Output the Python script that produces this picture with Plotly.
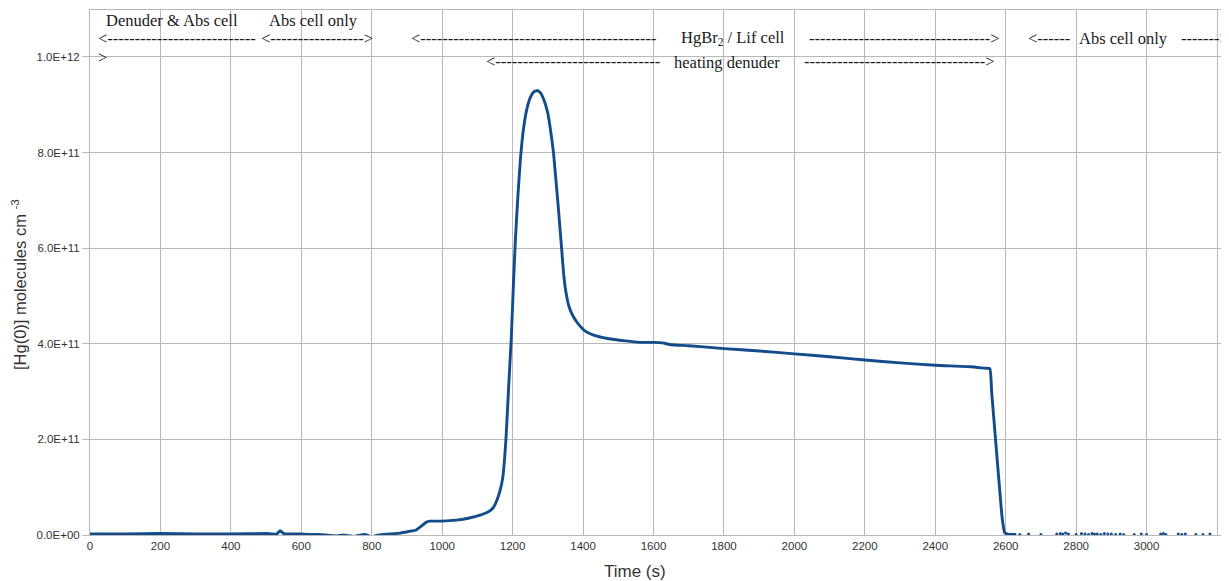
import plotly.graph_objects as go

# ---- data ----
time_s = [0, 100, 200, 300, 400, 500, 530, 540, 550, 600, 650, 700, 720, 750, 780, 800, 820,
          850, 880, 910, 925, 940, 955, 965, 1000, 1040, 1080, 1110, 1130, 1145, 1155, 1165,
          1172, 1181, 1188, 1196, 1202, 1208, 1215, 1222, 1230, 1240, 1250, 1260, 1270, 1280,
          1290, 1300, 1308, 1316, 1322, 1328, 1339, 1345, 1352, 1360, 1372, 1388, 1405, 1430,
          1470, 1520, 1560, 1600, 1625, 1650, 1700, 1800, 1900, 2000, 2100, 2200, 2300, 2400,
          2500, 2540, 2555, 2560, 2570, 2580, 2590, 2597, 2605, 2630]
hg0 = [0.02e11, 0.02e11, 0.03e11, 0.02e11, 0.02e11, 0.03e11, 0.02e11, 0.09e11, 0.03e11, 0.02e11,
       0.01e11, -0.02e11, 0.0, -0.03e11, 0.01e11, -0.04e11, 0.0,
       0.02e11, 0.04e11, 0.08e11, 0.10e11, 0.18e11, 0.27e11, 0.29e11, 0.29e11, 0.31e11, 0.36e11,
       0.42e11, 0.48e11, 0.57e11, 0.72e11, 0.95e11,
       1.2e11, 2.0e11, 3.0e11, 4.1e11, 5.2e11, 6.2e11, 7.1e11, 7.85e11, 8.45e11, 8.9e11, 9.15e11,
       9.27e11, 9.3e11, 9.24e11,
       9.08e11, 8.82e11, 8.45e11, 8.0e11, 7.5e11, 7.0e11, 6.0e11, 5.45e11, 5.05e11, 4.78e11,
       4.57e11, 4.4e11, 4.27e11, 4.18e11,
       4.11e11, 4.06e11, 4.03e11, 4.03e11, 4.02e11, 3.98e11, 3.96e11, 3.9e11, 3.85e11, 3.79e11,
       3.73e11, 3.66e11, 3.6e11, 3.55e11,
       3.52e11, 3.49e11, 3.48e11, 3.0e11, 2.1e11, 1.2e11, 0.35e11, 0.05e11, 0.02e11, 0.01e11]

# scattered readings after the Abs-cell-only switch
scatter_t = [2640, 2665, 2700, 2745, 2755, 2762, 2770, 2778, 2800, 2815, 2825, 2835, 2845, 2852,
             2860, 2870, 2880, 2890, 2900, 2912, 2925, 2935, 2965, 2985, 3000, 3040, 3048, 3055,
             3090, 3100, 3110, 3140, 3160, 3180]
scatter_v = [0.01e11, 0.02e11, 0.01e11, 0.02e11, 0.03e11, 0.02e11, 0.04e11, 0.02e11, 0.01e11,
             0.03e11, 0.02e11, 0.01e11, 0.03e11, 0.02e11, 0.02e11, 0.01e11, 0.03e11, 0.02e11,
             0.02e11, 0.01e11, 0.02e11, 0.01e11, 0.01e11, 0.02e11, 0.01e11, 0.02e11, 0.03e11,
             0.01e11, 0.02e11, 0.01e11, 0.02e11, 0.01e11, 0.01e11, 0.02e11]

y_tickvals = [0, 2e11, 4e11, 6e11, 8e11, 1e12]
y_ticktext = ["0.0E+00", "2.0E+11", "4.0E+11", "6.0E+11", "8.0E+11", "1.0E+12"]

LINE = "#124c8b"
GRID = "#b8b8b8"
TXT = "#333333"

fig = go.Figure()
fig.add_trace(go.Scatter(x=time_s, y=hg0, mode="lines",
                         line=dict(color=LINE, width=2.9, shape="spline", smoothing=0.4),
                         showlegend=False))
fig.add_trace(go.Scatter(x=scatter_t, y=scatter_v, mode="markers",
                         marker=dict(color=LINE, size=3), showlegend=False))

# the page body has an 8px margin, so the figure is offset by 8px
OFF = 8
SCREEN_W, SCREEN_H = 1229, 581
W, H = SCREEN_W - OFF, SCREEN_H - OFF
PL, PT, PR, PB = 90, 10, 1229, 535          # plot area in screen pixels
L, T = PL - OFF, PT - OFF
B = H - (PB - OFF)
R = W - (PR - OFF)
pw, ph = PR - PL, PB - PT


def px(x):
    return (x - PL) / pw


def py(y):
    return (PB - y) / ph


serif = dict(family="Liberation Serif", size=16.5, color="#1a1a1a")
notes = [
    ("Denuder &amp; Abs cell", 105, 21),
    ("Abs cell only", 268, 21),
    ("<" + "-" * 27, 97, 39),
    ("<" + "-" * 17 + ">", 260, 39),
    (">", 97, 57),
    ("<" + "-" * 43, 410, 39),
    ("HgBr<sub>2</sub> / Lif cell", 680, 38.5),
    ("-" * 33 + ">", 808, 38.5),
    ("<" + "-" * 30, 485, 61.5),
    ("heating denuder", 673, 62),
    ("-" * 33 + ">", 803, 61.5),
    ("<" + "-" * 6, 1027, 38.5),
    ("Abs cell only", 1078, 38.5),
    ("-" * 7 + ">", 1180, 38.5),
]
annotations = []
for text, x, y in notes:
    annotations.append(dict(text=text, x=px(x), y=py(y), xref="paper", yref="paper",
                            xanchor="left", yanchor="middle", showarrow=False, font=serif,
                            borderpad=0))
annotations.append(dict(text="Time (s)", x=px(635), y=py(571), xref="paper", yref="paper",
                        xanchor="center", yanchor="middle", showarrow=False,
                        font=dict(family="Liberation Sans", size=17, color=TXT)))
annotations.append(dict(text="[Hg(0)] molecules cm <sup>-3</sup>", x=px(19), y=py(285),
                        xref="paper", yref="paper", xanchor="center", yanchor="middle",
                        textangle=-90, showarrow=False,
                        font=dict(family="Liberation Sans", size=16.5, color=TXT)))

fig.update_layout(
    width=W, height=H,
    margin=dict(l=L, r=R, t=T, b=B, pad=0, autoexpand=False),
    plot_bgcolor="white", paper_bgcolor="white",
    font=dict(family="Liberation Sans", size=11.5, color=TXT),
    annotations=annotations,
    xaxis=dict(range=[0, 3234], dtick=200, tick0=0, showgrid=True, gridcolor=GRID,
               gridwidth=1, zeroline=False, showline=True, linecolor=GRID, mirror=True,
               ticks="", tickfont=dict(family="Liberation Sans", size=11.5, color=TXT)),
    yaxis=dict(range=[0, 1.0983e12], tickvals=y_tickvals, ticktext=y_ticktext,
               showgrid=True, gridcolor=GRID, gridwidth=1, zeroline=False, showline=True,
               linecolor=GRID, ticks="outside", ticklen=7, tickcolor=GRID,
               tickfont=dict(family="Liberation Sans", size=11.5, color=TXT)),
)

fig.write_html("out.html")
